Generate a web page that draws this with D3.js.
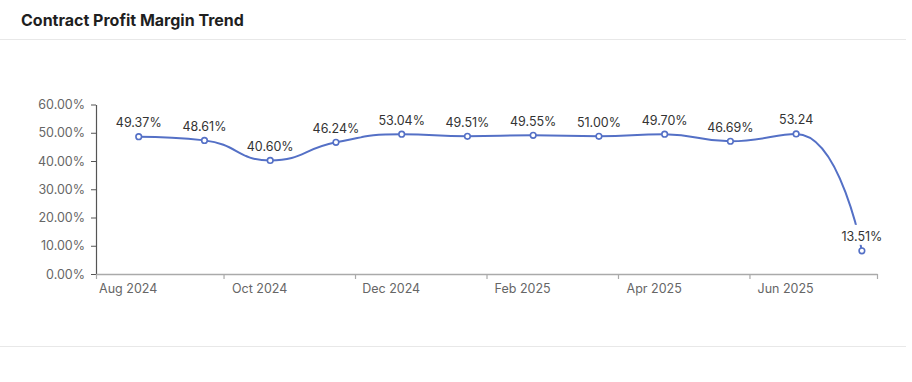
<!DOCTYPE html>
<html>
<head>
<meta charset="utf-8">
<script src="https://cdn.jsdelivr.net/npm/d3@7/dist/d3.min.js"></script>
<style>
  html, body { margin: 0; padding: 0; background: #fff; }
  svg { display: block; font-family: Inter, "Noto Sans", sans-serif; }
</style>
</head>
<body>
<svg id="chart" width="912" height="382"></svg>
<script>
// ---- data ----
const title = "Contract Profit Margin Trend";
const months = ["2024-08","2024-09","2024-10","2024-11","2024-12","2025-01",
                "2025-02","2025-03","2025-04","2025-05","2025-06","2025-07"];
// plotted values (percent), as drawn
const plotted = [48.6, 47.3, 40.2, 46.6, 49.5, 48.75, 49.1, 48.75, 49.5, 47.0, 49.6, 8.2];
// data labels, as printed
const pointLabels = ["49.37%","48.61%","40.60%","46.24%","53.04%","49.51%",
                     "49.55%","51.00%","49.70%","46.69%","53.24","13.51%"];
const yTicks = [0, 10, 20, 30, 40, 50, 60];
const xTickMonths = [0, 2, 4, 6, 8, 10];
const xTickLabels = ["Aug 2024","Oct 2024","Dec 2024","Feb 2025","Apr 2025","Jun 2025"];

// ---- layout ----
const svg = d3.select("#chart");
const blue = "#5470c6";

svg.append("text").attr("x", 21).attr("y", 26)
  .attr("font-size", 16).attr("font-weight", 700).attr("fill", "#1f1f1f")
  .text(title);
svg.append("line").attr("x1", 0).attr("x2", 906).attr("y1", 39.5).attr("y2", 39.5)
  .attr("stroke", "#e8e8e8");
svg.append("line").attr("x1", 0).attr("x2", 906).attr("y1", 346.5).attr("y2", 346.5)
  .attr("stroke", "#e8e8e8");

// x scale in month units (month i spans [i, i+1])
const xStart = 0.06, xEnd = 11.94;
const x = d3.scaleLinear().domain([xStart, xEnd]).range([96, 877]);
const y = d3.scaleLinear().domain([0, 60]).range([274, 104.5]);
const pointPos = 0.71;   // where within the month the point sits
const labelPos = 0.55;   // where within the month the label sits

// y axis
const yAxis = svg.append("g").attr("transform", "translate(96,0)")
  .call(d3.axisLeft(y).tickValues(yTicks).tickFormat(d => d.toFixed(2) + "%")
        .tickSize(5).tickSizeOuter(0).tickPadding(6));
yAxis.select(".domain").attr("stroke", "#555").attr("stroke-width", 1.2);
yAxis.selectAll(".tick line").attr("stroke", "#555");
yAxis.selectAll(".tick text").attr("fill", "#666").attr("font-size", 12.5)
  .attr("font-family", "Inter, sans-serif");

// x axis
const xAxis = svg.append("g").attr("transform", `translate(0,${y(0)})`)
  .call(d3.axisBottom(x).tickValues([xStart, ...xTickMonths.slice(1), xEnd])
        .tickFormat("").tickSize(5).tickSizeOuter(0));
xAxis.select(".domain").attr("stroke", "#aaa").attr("stroke-width", 1.5);
xAxis.selectAll(".tick line").attr("stroke", "#aaa").attr("stroke-width", 1.2);

svg.append("g").selectAll("text").data(xTickMonths).join("text")
  .attr("x", d => x(d + labelPos)).attr("y", y(0) + 19)
  .attr("text-anchor", "middle").attr("font-size", 12.5).attr("fill", "#666")
  .text((d, i) => xTickLabels[i]);

// ECharts-like smooth curve (smooth = 0.5)
function EchartsSmooth(context) { this._context = context; }
EchartsSmooth.prototype = {
  areaStart() {}, areaEnd() {},
  lineStart() { this._pts = []; },
  point(px, py) { this._pts.push([+px, +py]); },
  lineEnd() {
    const pts = this._pts, ctx = this._context, smooth = 0.5, n = pts.length;
    if (!n) return;
    let cpx0, cpy0, prevX, prevY;
    for (let i = 0; i < n; i++) {
      const [px, py] = pts[i];
      if (i === 0) { ctx.moveTo(px, py); cpx0 = px; cpy0 = py; }
      else {
        let cpx1, cpy1, nextCpx0, nextCpy0;
        if (i === n - 1) { cpx1 = px; cpy1 = py; nextCpx0 = px; nextCpy0 = py; }
        else {
          const [nx, ny] = pts[i + 1];
          let vx = nx - prevX, vy = ny - prevY;
          const dx0 = px - prevX, dy0 = py - prevY, dx1 = nx - px, dy1 = ny - py;
          const lp = Math.sqrt(dx0*dx0 + dy0*dy0), ln = Math.sqrt(dx1*dx1 + dy1*dy1);
          const r = ln / (ln + lp);
          nextCpx0 = px + vx * smooth * r; nextCpy0 = py + vy * smooth * r;
          nextCpx0 = Math.max(Math.min(nextCpx0, Math.max(nx, px)), Math.min(nx, px));
          nextCpy0 = Math.max(Math.min(nextCpy0, Math.max(ny, py)), Math.min(ny, py));
          vx = nextCpx0 - px; vy = nextCpy0 - py;
          cpx1 = px - vx * lp / ln; cpy1 = py - vy * lp / ln;
          cpx1 = Math.max(Math.min(cpx1, Math.max(prevX, px)), Math.min(prevX, px));
          cpy1 = Math.max(Math.min(cpy1, Math.max(prevY, py)), Math.min(prevY, py));
          vx = px - cpx1; vy = py - cpy1;
          nextCpx0 = px + vx * ln / lp; nextCpy0 = py + vy * ln / lp;
        }
        ctx.bezierCurveTo(cpx0, cpy0, cpx1, cpy1, px, py);
        cpx0 = nextCpx0; cpy0 = nextCpy0;
      }
      prevX = px; prevY = py;
    }
  }
};
const curveEcharts = ctx => new EchartsSmooth(ctx);

const data = months.map((m, i) => ({ m, i, v: plotted[i], label: pointLabels[i] }));

svg.append("path").datum(data)
  .attr("fill", "none").attr("stroke", blue).attr("stroke-width", 2)
  .attr("d", d3.line().x(d => x(d.i + pointPos)).y(d => y(d.v)).curve(curveEcharts));

svg.append("g").selectAll("circle").data(data).join("circle")
  .attr("cx", d => x(d.i + pointPos)).attr("cy", d => y(d.v)).attr("r", 2.8)
  .attr("fill", "#fff").attr("stroke", blue).attr("stroke-width", 1.6);

// data labels with white background
const lg = svg.append("g").selectAll("g").data(data).join("g")
  .attr("transform", d => `translate(${x(d.i + pointPos)},${y(d.v) - 9.5})`);
lg.append("rect").attr("fill", "#fff");
lg.append("text").attr("text-anchor", "middle").attr("font-size", 12.5)
  .attr("fill", "#333").text(d => d.label);
lg.each(function() {
  const g = d3.select(this);
  const b = g.select("text").node().getBBox();
  g.select("rect").attr("x", b.x - 2).attr("y", b.y - 4.5)
    .attr("width", b.width + 4).attr("height", b.height + 5);
});
</script>
</body>
</html>
